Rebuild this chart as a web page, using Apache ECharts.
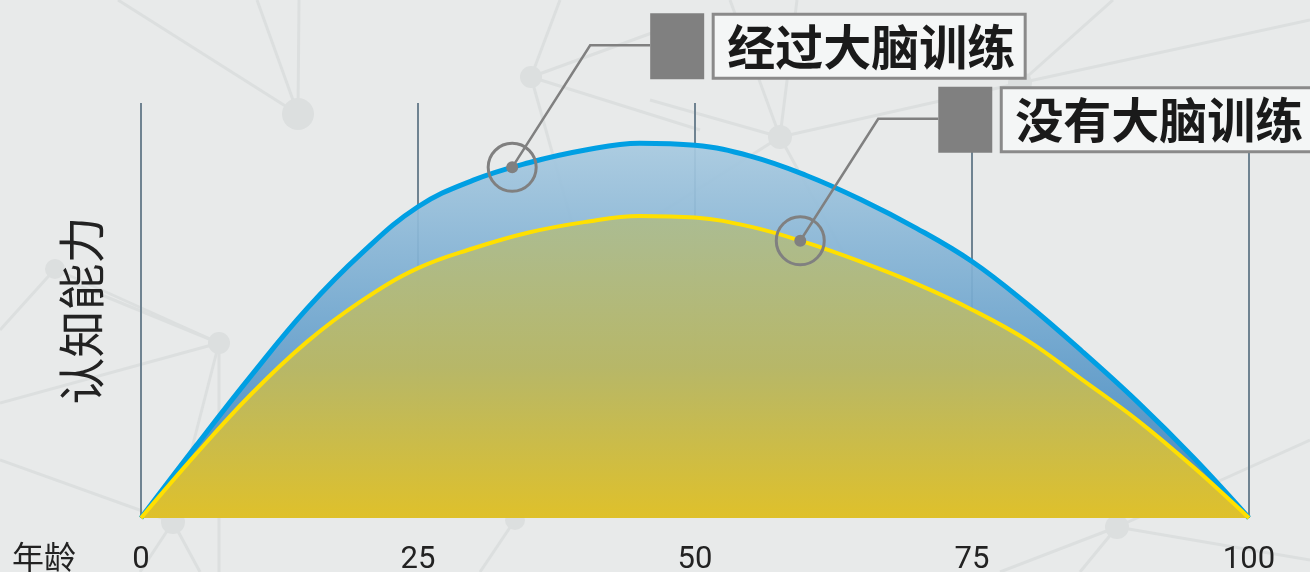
<!DOCTYPE html>
<html>
<head>
    <meta charset="utf-8">
    <title>认知能力与年龄</title>
    <script src="https://cdn.jsdelivr.net/npm/echarts@6.0.0/dist/echarts.min.js"></script>
    <style>
        html, body { margin: 0; padding: 0; background: #e8eaea; }
        #main { width: 1310px; height: 572px; }
    </style>
</head>
<body>
    <div id="main"></div>
    <script>
        // 年龄（横轴）
        const ages = [0, 5, 10, 15, 20, 25, 30, 35, 40, 45, 50, 55, 60, 65, 70, 75, 80, 85, 90, 95, 100];
        // 经过大脑训练
        const trained = [0, 17.5, 34.5, 50.5, 64, 75, 81.4, 85.6, 88.6, 90.3, 89.8, 87.2, 82.6, 76.7, 69.8, 61.8, 51.5, 40, 27.8, 14.5, 0];
        // 没有大脑训练
        const untrained = [0, 15.5, 30, 42.5, 52.5, 60.2, 65, 68.8, 71.3, 72.8, 72.4, 70.2, 66.4, 61.7, 56.4, 50.2, 42.8, 33.2, 23.4, 12.2, 0];
        const seriesNames = ['经过大脑训练', '没有大脑训练'];
        // 标注所指的曲线上的点 [年龄, 数值]
        const calloutPoints = [[33.5, 84.5], [59.5, 66.8]];

        const chart = echarts.init(document.getElementById('main'));
        const cjk = '"Noto Sans CJK SC", "Noto Sans", sans-serif';

        chart.setOption({
            backgroundColor: '#e8eaea',
            animation: false,
            grid: { left: 141, right: 61, top: 103, bottom: 54, containLabel: false, outerBoundsMode: 'none' },
            xAxis: {
                type: 'value',
                min: 0,
                max: 100,
                interval: 25,
                axisLine: { show: false },
                axisTick: { show: false },
                axisLabel: { fontSize: 31, color: '#222', margin: 27, fontFamily: 'Roboto' },
                splitLine: { show: true, lineStyle: { color: '#6f8391', width: 2 } }
            },
            yAxis: {
                type: 'value',
                min: 0,
                max: 100,
                name: '认知能力',
                nameLocation: 'middle',
                nameGap: 36,
                nameTextStyle: { fontSize: 47, color: '#222', fontFamily: cjk },
                axisLine: { show: false },
                axisTick: { show: false },
                axisLabel: { show: false },
                splitLine: { show: false }
            },
            series: [
                {
                    name: seriesNames[0],
                    type: 'line',
                    data: ages.map((a, i) => [a, trained[i]]),
                    smooth: 0.4,
                    symbol: 'none',
                    z: 2,
                    lineStyle: { color: '#009fe3', width: 5 },
                    areaStyle: {
                        opacity: 1,
                        color: new echarts.graphic.LinearGradient(0, 143, 0, 518, [
                            { offset: 0, color: 'rgba(168,202,224,0.93)' },
                            { offset: 1, color: 'rgba(52,128,188,0.93)' }
                        ], true)
                    }
                },
                {
                    name: seriesNames[1],
                    type: 'line',
                    data: ages.map((a, i) => [a, untrained[i]]),
                    smooth: 0.4,
                    symbol: 'none',
                    z: 3,
                    lineStyle: { color: '#ffe000', width: 4 },
                    areaStyle: {
                        opacity: 1,
                        color: new echarts.graphic.LinearGradient(0, 215, 0, 518, [
                            { offset: 0, color: 'rgba(172,188,144,0.96)' },
                            { offset: 0.5, color: 'rgba(186,184,100,0.96)' },
                            { offset: 1, color: 'rgba(226,194,40,0.98)' }
                        ], true)
                    }
                }
            ]
        });

        // 背景网络装饰
        const bgLine = '#dcdfdf';
        const nodes = [
            [298, 114, 16], [531, 77, 11], [55, 269, 10], [219, 343, 11], [173, 522, 12],
            [780, 137, 12], [1020, 83, 12], [1117, 527, 12], [583, 262, 10], [515, 520, 10]
        ];
        const edges = [
            [298, 114, 118, 0], [298, 114, 257, 0], [298, 114, 299, 0],
            [531, 77, 660, 30], [531, 77, 700, 130], [531, 77, 560, 0], [531, 77, 583, 262],
            [55, 269, 0, 330], [55, 269, 219, 343], [219, 343, 0, 403], [219, 343, 65, 280],
            [219, 343, 219, 572], [219, 343, 173, 522], [173, 522, 0, 460], [173, 522, 140, 572],
            [173, 522, 200, 572], [780, 137, 730, 0], [780, 137, 797, 0], [780, 137, 650, 100],
            [780, 137, 1020, 83], [780, 137, 880, 320], [1020, 83, 1113, 0], [1020, 83, 1310, 20],
            [1117, 527, 1310, 440], [1117, 527, 1000, 572], [1117, 527, 1080, 572], [1117, 527, 1310, 560],
            [583, 262, 780, 137], [515, 520, 583, 262], [515, 520, 480, 572]
        ];
        const graphics = [];
        edges.forEach(e => graphics.push({
            type: 'line', z: -10, silent: true,
            shape: { x1: e[0], y1: e[1], x2: e[2], y2: e[3] },
            style: { stroke: bgLine, lineWidth: 3 }
        }));
        nodes.forEach(n => graphics.push({
            type: 'circle', z: -10, silent: true,
            shape: { cx: n[0], cy: n[1], r: n[2] },
            style: { fill: bgLine }
        }));

        // 横轴名称
        graphics.push({
            type: 'text', z: 50, x: 12, y: 557,
            style: { text: '年龄', fontSize: 32, fontFamily: cjk, fill: '#222', verticalAlign: 'middle', align: 'left' }
        });

        // 标注
        const boxWidth = [312, 330];
        calloutPoints.forEach((pt, s) => {
            const p = chart.convertToPixel({ seriesIndex: s }, pt);
            const x = p[0], y = p[1];
            graphics.push(
                { type: 'circle', z: 100, shape: { cx: x, cy: y, r: 24 }, style: { fill: null, stroke: '#808080', lineWidth: 3 } },
                { type: 'circle', z: 100, shape: { cx: x, cy: y, r: 6 }, style: { fill: '#808080' } },
                { type: 'polyline', z: 100, shape: { points: [[x, y], [x + 78, y - 122], [x + 138, y - 122]] }, style: { stroke: '#808080', lineWidth: 2.5, fill: null } },
                { type: 'rect', z: 100, shape: { x: x + 138, y: y - 154, width: 54, height: 66 }, style: { fill: '#808080' } },
                { type: 'rect', z: 100, shape: { x: x + 201, y: y - 153, width: boxWidth[s], height: 64 }, style: { fill: '#f4f6f6', stroke: '#8a8a8a', lineWidth: 3 } },
                {
                    type: 'text', z: 101, x: x + 215, y: y - 121,
                    style: { text: seriesNames[s], fontSize: 48, fontWeight: 'bold', fontFamily: cjk, fill: '#1a1a1a', verticalAlign: 'middle', align: 'left' }
                }
            );
        });

        chart.setOption({ graphic: graphics });
    </script>
</body>
</html>
